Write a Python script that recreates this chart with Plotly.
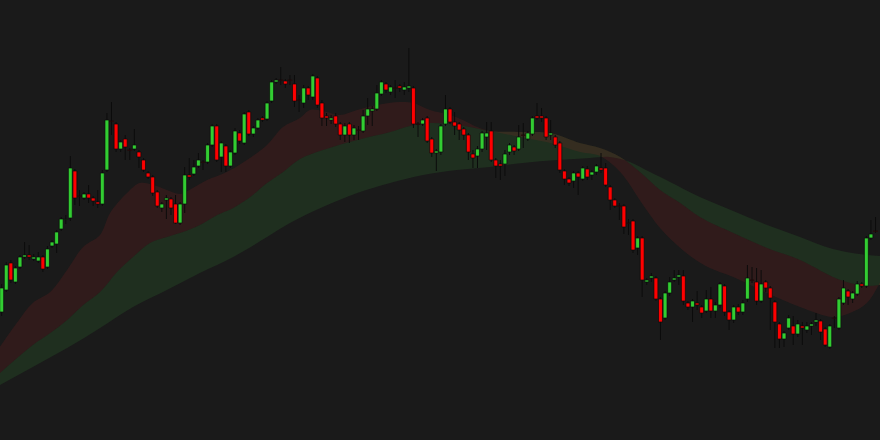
import plotly.graph_objects as go

# ---- candle data (price units) ----
open_ = [128,150,177,158,173,183,185,181,179,183,173,194,196,211,220.5,222,269,244,242,246,
         242,238,236,270,319,316,291,301,290,291,288,280,267,263,248,232,240,241,236,217,
         236,265,266,274,278,278,295,314,283,294,274,287,307,297,328,306,312,322,321,339,
         358,360,359,360,356,340,337,352,343,362,337,324,320,324,316,305,316,305,310,309,
         324,329,331,346,356,348,352,354,350,352,352,316,316,322,301,287,288,316,331,318,
         316,311,305,286,284,291,303,309,280,276,276,288,293,291,305,301,306,324,324,322,
         305,303,297,269,261,259,267,261,271,265,268,272,272,253,240,234,234,217,219,192,
         202,158,162,162,141,122,147,160,163,164,137,133,137,133,129,141,129,135,154,128,
         120,133,128,141,160,158,139,158,152,138,116,101,112,114,106,114,110,114,118,119,
         111,93,122,112,137,149,141,146,156,154,202,209]
high = [156,178,180,174,185,198,195,186,188,185,194,200,210,223,225,284,271,250,248,255,
        244,250,270,327,338,318,300,305,292,311,290,282,269,265,250,238,245,243,245,238,
        273,282,280,287,280,297,316,316,299,296,290,312,310,328,330,314,322,324,339,360,
        362,373,361,365,365,345,355,354,366,364,340,327,325,327,318,317,318,315,314,330,
        342,334,355,360,358,355,360,356,358,392,354,318,322,324,303,291,316,345,333,328,
        318,313,307,290,294,309,318,318,282,280,290,297,295,315,317,309,324,337,332,324,
        320,305,299,271,263,269,269,274,274,270,276,287,277,255,242,237,236,221,221,204,
        204,162,167,164,143,149,163,170,170,170,139,141,149,135,150,153,138,158,156,130,
        135,136,140,175,173,172,170,160,154,140,118,109,125,124,120,118,118,118,127,121,
        113,116,124,143,160,151,149,159,158,204,220,223]
low = [124,148,157,156,171,181,180,179,177,168,171,192,187,209,216,219,235,234,240,237,
       234,232,234,268,305,288,288,280,280,289,272,268,261,244,232,228,221,225,216,215,
       227,260,264,272,270,276,293,278,268,268,272,285,296,295,304,303,310,318,319,337,
       356,355,352,355,333,328,332,340,340,332,314,314,316,313,300,298,297,300,300,307,
       315,314,329,344,347,345,342,348,345,348,312,303,314,297,283,269,285,314,316,305,
       300,300,280,272,272,288,290,278,262,260,264,285,285,289,292,299,304,320,318,300,
       300,292,267,255,254,252,245,259,260,260,265,267,253,230,232,220,206,205,187,185,
       143,155,158,139,100,120,144,158,155,135,130,118,130,122,127,122,122,132,124,110,
       117,125,125,138,157,135,137,148,110,92,92,93,110,95,103,95,107,105,114,100,
       93,91,112,110,135,135,137,144,152,152,200,207]
close = [152,175,160,172,183,185,183,183,183,171,191,198,208,221,221,272,242,243.5,246,242,
         239,236,267,320,318.5,291,298,293,289.5,295,283,270,263,247,234,236,242,232,217,236,
         265,263,273,280,277.5,295,314,280,297,274,288,309,299,326,306,312,320,320,337,358,
         360,359.5,356,359.5,339,339.5,352,345,364,335,322,322,322,316,305,314,305,312,309.5,324,
         331,331,347,358,350,353,351.5,352,353,354,316,315.5,320,299,287,289,314,331,318,314,
         310,305,288,282,291,307,307,280,274,274,286,295,289,303,304.5,307,322,322,322,303,
         307,295,270,261,257,267,263,272,263,268,274,270,255,240,234,233.5,213,216.5,190,202,
         160,160,164,141,118,147,158,162,165,139,133,139,135,127,141,129,135,156,128,120,
         133,128,137,162,159.5,139,156,152,142,118,101,107,122,106,116,112,114,116,120,108,
         95,114,121.5,141,152,143,147,156,154,202,206,208.5]

# ---- moving-average ribbon lines (sampled, candle-index positions) ----
fast_x = [-0.4,3.3,6.8,10.6,14.3,17.8,21.5,23.7,27.4,30.2,33.1,36.1,39.0,41.8,44.9,49.2,53.6,58.0,
          61.5,65.2,67.4,70.2,73.9,77.7,82.0,87.1,89.9,93.6,98.0,100.8,103.9,106.7,110.0,113.3,
          119.9,126.4,130.8,135.2,140.2,143.9,147.6,151.1,154.8,159.9,167.3,174.5,181.7,185.4,189.1,192.0]
fast_y = [93,117,137,148,170,193,205,227,247,257,255,250,246,252,260,268,280,295,
          313,322,330,329,325,330,335,338,337,330,325,320,313,309,306,303,
          297,288,284,268,235,212,195,182,172,163,147,133,123,127,137,158]
mid_x = [-0.4,6.8,10.6,14.3,17.8,21.5,25.2,28.7,32.4,36.1,39.6,43.3,47.1,50.6,54.3,58.0,61.5,65.2,
         70.2,77.7,84.9,89.2,93.6,98.0,102.4,106.7,113.3,119.9,126.4,130.8,135.2,139.5,143.9,148.3,
         152.6,159.9,167.3,174.5,181.7,185.4,189.1,192.0]
mid_y = [67,95,107,120,135,148,168,183,197,203,208,215,225,232,243,257,268,281,
         290,300,308,314,317,316,313,309,308,307,297,292,283,268,250,237,
         223,207,192,180,163,157,154,155]
slow_x = [-0.4,6.8,14.3,21.5,28.7,36.1,43.3,50.6,58.0,63.0,70.2,77.7,84.9,92.1,99.5,106.7,113.9,
          121.4,128.6,132.9,137.3,141.7,146.1,152.6,159.9,167.3,174.5,181.7,189.1,192.0]
slow_y = [55,73,92,112,133,150,167,183,203,217,233,247,257,265,270,273,277,
          280,282,283,278,268,258,243,229,215,203,191,185,184]

idx = list(range(len(close)))

BG = "#1a1a1a"
RED_FILL = "rgba(200,40,40,0.13)"
GREEN_FILL = "rgba(60,170,60,0.15)"
UP = "#32cd32"
DOWN = "#ff0000"
EDGE = "#0c0c0c"

fig = go.Figure()

# green ribbon (mid -> slow)
fig.add_trace(go.Scatter(x=mid_x, y=mid_y, mode="lines", line=dict(width=0, shape="spline"),
                         hoverinfo="skip", showlegend=False))
fig.add_trace(go.Scatter(x=slow_x, y=slow_y, mode="lines", line=dict(width=0, shape="spline"),
                         fill="tonexty", fillcolor=GREEN_FILL, hoverinfo="skip", showlegend=False))
# red ribbon (fast -> mid)
fig.add_trace(go.Scatter(x=fast_x, y=fast_y, mode="lines", line=dict(width=0, shape="spline"),
                         hoverinfo="skip", showlegend=False))
fig.add_trace(go.Scatter(x=mid_x, y=mid_y, mode="lines", line=dict(width=0, shape="spline"),
                         fill="tonexty", fillcolor=RED_FILL, hoverinfo="skip", showlegend=False))

# candles on an overlaid axis pair so they sit above the ribbons
body_lo = [min(o, c) for o, c in zip(open_, close)]
body_hi = [max(o, c) for o, c in zip(open_, close)]
body_h = [max(h - l, 0.6) for h, l in zip(body_hi, body_lo)]
colors = [UP if c >= o else DOWN for o, c in zip(open_, close)]

wx, wy = [], []
for i in idx:
    wx += [i, i, None, i, i, None]
    wy += [high[i], body_hi[i], None, body_lo[i], low[i], None]

fig.add_trace(go.Scatter(x=wx, y=wy, mode="lines", line=dict(color=EDGE, width=1),
                         hoverinfo="skip", showlegend=False, xaxis="x2", yaxis="y2"))
fig.add_trace(go.Bar(x=idx, y=body_h, base=body_lo, width=0.86,
                     marker=dict(color=colors, line=dict(color=EDGE, width=0.7)),
                     hoverinfo="skip", showlegend=False, xaxis="x2", yaxis="y2"))

ax = dict(visible=False, showgrid=False, zeroline=False)
fig.update_layout(
    width=880, height=440,
    margin=dict(l=0, r=0, t=0, b=0),
    paper_bgcolor=BG, plot_bgcolor=BG,
    showlegend=False,
    xaxis=dict(range=[-0.37, 191.98], **ax),
    yaxis=dict(range=[0, 440], **ax),
    xaxis2=dict(range=[-0.37, 191.98], overlaying="x", **ax),
    yaxis2=dict(range=[0, 440], overlaying="y", **ax),
)

fig.write_html("out.html", config={"displayModeBar": False})
